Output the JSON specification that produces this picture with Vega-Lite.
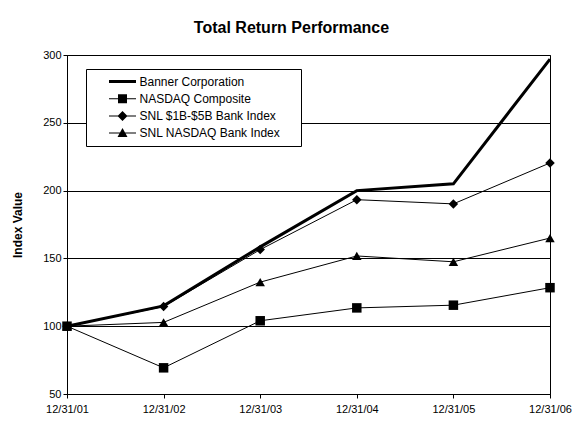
{
  "$schema": "https://vega.github.io/schema/vega-lite/v6.json",
  "width": 483,
  "height": 339,
  "autosize": {"type": "none"},
  "padding": {"left": 67, "top": 55, "right": 35, "bottom": 32},
  "background": "white",
  "title": {
    "text": "Total Return Performance",
    "font": "Liberation Sans",
    "fontSize": 16,
    "fontWeight": "bold",
    "color": "black",
    "anchor": "middle",
    "baseline": "alphabetic",
    "offset": 0,
    "dx": -17
  },
  "config": {
    "view": {"stroke": "black", "strokeWidth": 1},
    "axis": {
      "labelFont": "Liberation Sans",
      "labelFontSize": 11,
      "labelColor": "black",
      "titleFont": "Liberation Sans",
      "titleFontSize": 12,
      "titleFontWeight": "bold",
      "titleColor": "black",
      "domainColor": "black",
      "tickColor": "black",
      "tickSize": 4,
      "domainWidth": 1,
      "tickWidth": 1
    }
  },
  "data": {
    "values": [
      {"series": "Banner Corporation", "date": "12/31/01", "value": 100},
      {"series": "Banner Corporation", "date": "12/31/02", "value": 115},
      {"series": "Banner Corporation", "date": "12/31/03", "value": 158.5},
      {"series": "Banner Corporation", "date": "12/31/04", "value": 200},
      {"series": "Banner Corporation", "date": "12/31/05", "value": 205},
      {"series": "Banner Corporation", "date": "12/31/06", "value": 297},
      {"series": "NASDAQ Composite", "date": "12/31/01", "value": 100},
      {"series": "NASDAQ Composite", "date": "12/31/02", "value": 69.3},
      {"series": "NASDAQ Composite", "date": "12/31/03", "value": 104},
      {"series": "NASDAQ Composite", "date": "12/31/04", "value": 113.5},
      {"series": "NASDAQ Composite", "date": "12/31/05", "value": 115.5},
      {"series": "NASDAQ Composite", "date": "12/31/06", "value": 128.4},
      {"series": "SNL $1B-$5B Bank Index", "date": "12/31/01", "value": 100},
      {"series": "SNL $1B-$5B Bank Index", "date": "12/31/02", "value": 114.5},
      {"series": "SNL $1B-$5B Bank Index", "date": "12/31/03", "value": 156.5},
      {"series": "SNL $1B-$5B Bank Index", "date": "12/31/04", "value": 193.3},
      {"series": "SNL $1B-$5B Bank Index", "date": "12/31/05", "value": 190.2},
      {"series": "SNL $1B-$5B Bank Index", "date": "12/31/06", "value": 220.4},
      {"series": "SNL NASDAQ Bank Index", "date": "12/31/01", "value": 100},
      {"series": "SNL NASDAQ Bank Index", "date": "12/31/02", "value": 102.8},
      {"series": "SNL NASDAQ Bank Index", "date": "12/31/03", "value": 132.5},
      {"series": "SNL NASDAQ Bank Index", "date": "12/31/04", "value": 151.8},
      {"series": "SNL NASDAQ Bank Index", "date": "12/31/05", "value": 147.5},
      {"series": "SNL NASDAQ Bank Index", "date": "12/31/06", "value": 165}
    ]
  },
  "encoding": {
    "x": {
      "field": "date",
      "type": "ordinal",
      "scale": {"type": "point", "padding": 0},
      "axis": {"title": null, "labelAngle": 0, "grid": false, "labelPadding": 5}
    },
    "y": {
      "field": "value",
      "type": "quantitative",
      "scale": {"domain": [50, 300], "nice": false, "zero": false},
      "axis": {
        "title": "Index Value",
        "values": [50, 100, 150, 200, 250, 300],
        "grid": true,
        "gridColor": "black",
        "gridOpacity": 1,
        "gridWidth": 1,
        "labelPadding": 2,
        "titlePadding": 18
      }
    }
  },
  "layer": [
    {
      "transform": [{"filter": "datum.series !== 'Banner Corporation'"}],
      "mark": {"type": "line", "color": "black", "strokeWidth": 1, "strokeJoin": "miter"},
      "encoding": {
        "detail": {"field": "series", "type": "nominal"}
      }
    },
    {
      "transform": [{"filter": "datum.series === 'Banner Corporation'"}],
      "mark": {"type": "line", "color": "black", "strokeWidth": 3, "strokeJoin": "miter"},
      "encoding": {
        "detail": {"field": "series", "type": "nominal"}
      }
    },
    {
      "transform": [{"filter": "datum.series !== 'Banner Corporation'"}],
      "mark": {"type": "point", "filled": true, "color": "black", "opacity": 1, "size": 90},
      "encoding": {
        "shape": {
          "field": "series",
          "type": "nominal",
          "scale": {
            "domain": ["NASDAQ Composite", "SNL $1B-$5B Bank Index", "SNL NASDAQ Bank Index"],
            "range": ["square", "diamond", "triangle-up"]
          },
          "legend": null
        }
      }
    },
    {
      "transform": [{"filter": "false"}],
      "mark": {"type": "point", "filled": true, "color": "black", "opacity": 1, "size": 100, "strokeWidth": 0},
      "encoding": {
        "shape": {
          "field": "series",
          "type": "nominal",
          "scale": {
            "domain": ["Banner Corporation", "NASDAQ Composite", "SNL $1B-$5B Bank Index", "SNL NASDAQ Bank Index"],
            "range": [
              "M-2.7,-0.3H2.7V0.3H-2.7Z",
              "M-2.7,-0.1H2.7V0.1H-2.7ZM-0.9,-0.9H0.9V0.9H-0.9Z",
              "M-2.7,-0.1H2.7V0.1H-2.7ZM0,-1L1,0L0,1L-1,0Z",
              "M-2.7,-0.1H2.7V0.1H-2.7ZM0,-1L1,0.8L-1,0.8Z"
            ]
          },
          "legend": {
            "title": " ",
            "titleOrient": "right",
            "titlePadding": 14,
            "orient": "none",
            "legendX": 19,
            "legendY": 14,
            "padding": 6.5,
            "rowPadding": 5.2,
            "strokeColor": "black",
            "fillColor": "white",
            "labelFont": "Liberation Sans",
            "labelFontSize": 12,
            "labelColor": "black",
            "labelLimit": 400,
            "symbolSize": 100,
            "symbolOffset": 24,
            "labelOffset": 11,
            "symbolStrokeWidth": 0,
            "symbolFillColor": "black",
            "symbolOpacity": 1
          }
        }
      }
    }
  ],
  "resolve": {"scale": {"shape": "independent"}, "legend": {"shape": "independent"}}
}
